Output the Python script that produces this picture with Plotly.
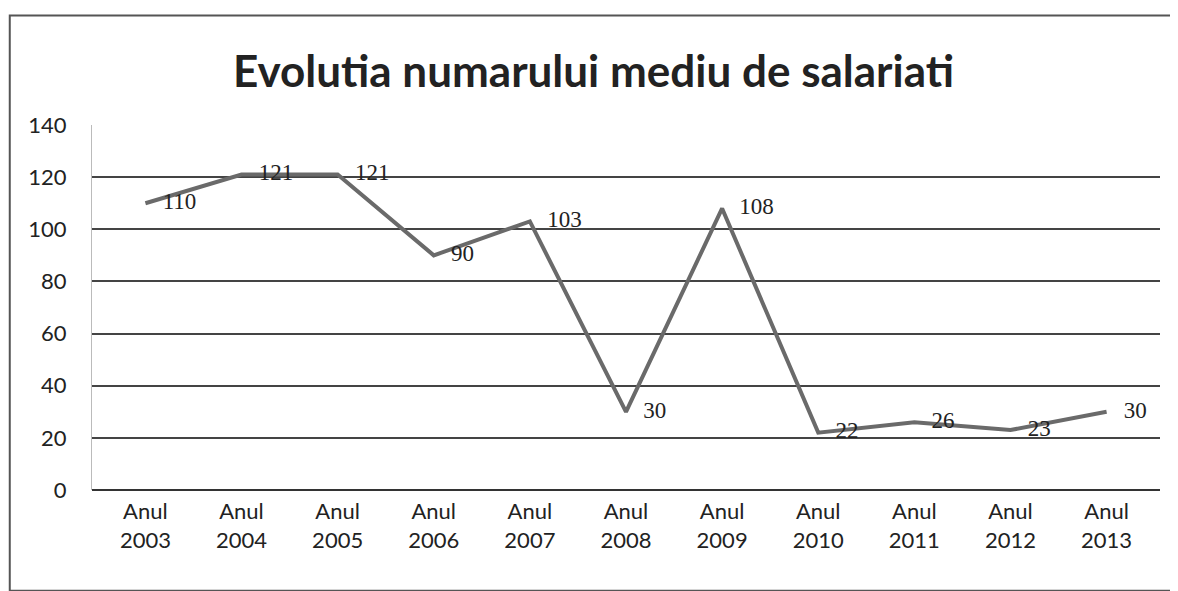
import plotly.graph_objects as go

# Data
years = ["2003", "2004", "2005", "2006", "2007", "2008", "2009", "2010", "2011", "2012", "2013"]
categories = ["Anul<br>" + y for y in years]
salariati = [110, 121, 121, 90, 103, 30, 108, 22, 26, 23, 30]
y_ticks = [0, 20, 40, 60, 80, 100, 120, 140]

fig = go.Figure()

fig.add_trace(go.Scatter(
    x=categories,
    y=salariati,
    mode="lines+text",
    line=dict(color="#6a6a6a", width=4),
    texttemplate="   %{y}",
    textposition="middle right",
    textfont=dict(family="Liberation Serif", size=23, color="#222"),
    cliponaxis=False,
    showlegend=False,
))

# page body has an 8px margin, so the figure is shifted by 8px
fig.update_layout(
    width=1178,
    height=591,
    paper_bgcolor="white",
    plot_bgcolor="white",
    margin=dict(l=84, r=26, t=117, b=109),
    title=dict(
        text="<b>Evolutia numarului mediu de salariati</b>",
        x=0.497, xanchor="center",
        y=0.893, yanchor="middle",
        font=dict(family="Lato", size=44, color="#222"),
    ),
    xaxis=dict(
        showgrid=False,
        showline=False,
        ticks="",
        ticklabelstandoff=6,
        tickfont=dict(family="Lato", size=22, color="#222"),
    ),
    yaxis=dict(
        range=[0, 140],
        tickvals=y_ticks,
        showgrid=True,
        gridcolor="#444",
        gridwidth=2,
        zeroline=True,
        zerolinecolor="#333",
        zerolinewidth=2,
        showline=True,
        linecolor="#bbb",
        linewidth=1,
        ticks="",
        ticklabelstandoff=20,
        tickfont=dict(family="Lato", size=22, color="#222"),
    ),
    shapes=[
        dict(type="rect", xref="paper", yref="paper",
             x0=-0.077, x1=1.06, y0=-0.276, y1=1.30,
             line=dict(color="#555", width=2)),
    ],
)

fig.write_html("out.html")
